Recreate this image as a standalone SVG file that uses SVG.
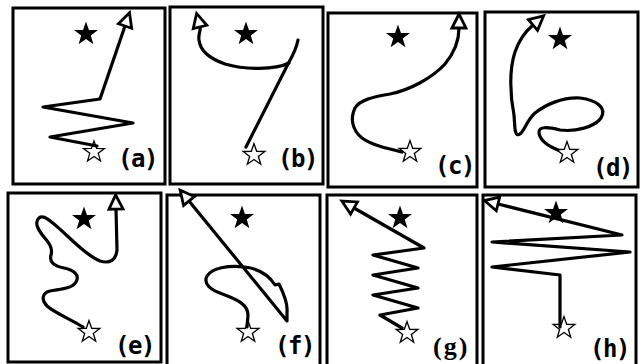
<svg xmlns="http://www.w3.org/2000/svg" width="642" height="364" viewBox="0 0 642 364">
<style>
.frame{fill:none;stroke:#000;stroke-width:3}
.trail{fill:none;stroke:#000;stroke-width:3.2;stroke-linejoin:round;stroke-linecap:round;marker-end:url(#head)}
.spur{fill:none;stroke:#000;stroke-width:3.2;stroke-linecap:round}
.goal{fill:#000}
.start{fill:#fff;stroke:#000;stroke-width:1.4}
.lbl{font-family:"DejaVu Sans Mono","Liberation Mono",monospace;font-size:24px;font-weight:bold;letter-spacing:-1.5px;fill:#000}
.lbls{font-family:"Liberation Serif","DejaVu Serif",serif;font-size:26px;font-weight:bold;letter-spacing:2px;fill:#000}
</style>
<defs>
<path id="star" d="M0,-12 L2.82,-3.88 L11.41,-3.71 L4.57,1.48 L7.05,9.71 L0,4.8 L-7.05,9.71 L-4.57,1.48 L-11.41,-3.71 L-2.82,-3.88 Z"/>
<marker id="head" markerUnits="userSpaceOnUse" viewBox="-3 -11 22 22" refX="0" refY="0" markerWidth="22" markerHeight="22" orient="auto">
<path d="M0,-7 L14,0 L0,7 Z" fill="#fff" stroke="#000" stroke-width="2.8" stroke-linejoin="miter"/>
</marker>
</defs>
<rect width="642" height="364" fill="#fff"/>

<g id="panel-a">
<rect class="frame" x="13" y="8" width="152" height="176"/>
<use href="#star" class="goal" transform="translate(86,34) scale(1.05)"/>
<use href="#star" class="start" transform="translate(94,152) scale(0.92)"/>
<text class="lbl" x="118" y="167">(a)</text>
</g>
<g id="panel-b">
<rect class="frame" x="170" y="7" width="153" height="177"/>
<use href="#star" class="goal" transform="translate(246,34) scale(1.05)"/>
<use href="#star" class="start" transform="translate(254,155) scale(0.95)"/>
<text class="lbl" x="278" y="167">(b)</text>
</g>
<g id="panel-c">
<rect class="frame" x="328" y="13" width="149" height="174"/>
<use href="#star" class="goal" transform="translate(398,37) scale(1.05)"/>
<use href="#star" class="start" transform="translate(410,152) scale(0.95)"/>
<text class="lbl" x="435" y="174">(c)</text>
</g>
<g id="panel-d">
<rect class="frame" x="485" y="12" width="153" height="175"/>
<use href="#star" class="goal" transform="translate(560,39) scale(1.05)"/>
<use href="#star" class="start" transform="translate(567,153) scale(0.95)"/>
<text class="lbl" x="593" y="176">(d)</text>
</g>
<g id="panel-e">
<rect class="frame" x="8" y="193" width="153" height="169"/>
<use href="#star" class="goal" transform="translate(84,219) scale(1.05)"/>
<use href="#star" class="start" transform="translate(89,332) scale(0.95)"/>
<text class="lbl" x="115" y="354">(e)</text>
</g>
<g id="panel-f">
<rect class="frame" x="167" y="195" width="153" height="172"/>
<use href="#star" class="goal" transform="translate(242,218) scale(1.05)"/>
<use href="#star" class="start" transform="translate(248,332) scale(0.95)"/>
<text class="lbl" x="275" y="354">(f)</text>
</g>
<g id="panel-g">
<rect class="frame" x="327" y="195" width="150" height="172"/>
<use href="#star" class="goal" transform="translate(400,218) scale(1.05)"/>
<use href="#star" class="start" transform="translate(407,333) scale(0.95)"/>
<text class="lbls" x="433" y="355">(g)</text>
</g>
<g id="panel-h">
<rect class="frame" x="483" y="195" width="153" height="172"/>
<use href="#star" class="goal" transform="translate(556,213) scale(1.05)"/>
<use href="#star" class="start" transform="translate(564,328) scale(0.95)"/>
<text class="lbl" x="590" y="357">(h)</text>
</g>

<g id="connectors">
<path class="trail" d="M97,146 L50,137 L133,123 L43,107 L100,99 L125,26"/>
<path class="spur" d="M246,147 L289,62 Q296,50 298,40"/>
<path class="trail" d="M289,63 C275,70 245,70 225,64 C208,58 200,50 199,40 C198,34 201,31 200,27"/>
<path class="trail" d="M402,152 C385,148 372,145 362,138 C352,130 350,118 355,108 C360,100 372,97 390,94 C410,90 432,78 445,64 C455,52 459,40 459,28"/>
<path class="trail" d="M558,150 C548,146 540,140 539,133 C538,126 548,127 560,130 C575,132 595,127 601,118 C607,108 597,100 580,98 C562,97 545,105 535,113 C527,120 525,130 520,134 C514,138 515,125 514,115 C510,95 509,70 515,52 C519,40 526,31 533,25"/>
<path class="trail" d="M83,327 C72,320 55,313 47,306 C41,300 42,293 50,291 C60,289 72,289 76,282 C80,275 74,270 64,268 C54,266 49,262 51,255 C53,248 49,243 44,237 C38,230 34,222 39,218 C44,214 52,222 62,231 C75,243 88,256 100,261 C110,264 116,260 117,250 L116,209"/>
<path class="trail" d="M247,327 L248,315 C248,305 238,300 225,295 C210,290 203,284 207,276 C212,268 228,265 245,267 C260,269 270,277 275,285 L279,284 C283,292 288,303 287,312 L287,321 L189,201"/>
<path class="trail" d="M402,328 L380,315 L418,308 L373,295 L418,288 L373,275 L418,268 L373,255 L424,248 L354,208"/>
<path class="trail" d="M560,327 L560,275 L492,267 L630,252 L492,242 L622,235 L498,204"/>
</g>
</svg>
